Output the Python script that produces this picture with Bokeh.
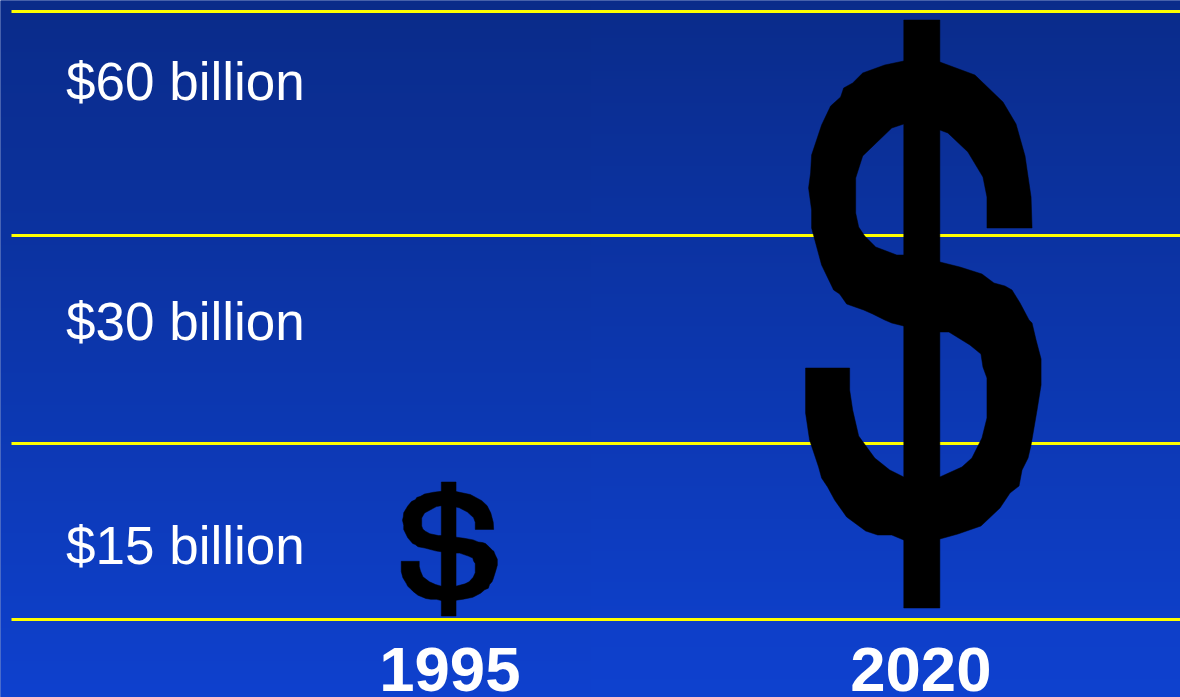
import numpy as np
from bokeh.core.properties import value
from bokeh.embed import file_html
from bokeh.models import Range1d
from bokeh.plotting import figure
from bokeh.resources import INLINE

# Chart content
years = [1995, 2020]
year_labels = ["1995", "2020"]
band_labels = ["$60 billion", "$30 billion", "$15 billion"]
grid_levels = [60.8, 38.4, 17.6, 0.0]        # rule heights (10 px per unit)
label_levels = [53.8, 29.8, 7.4]             # text positions in the same units
year_label_level = -5.0
mark_centres = [1994.94, 2020.10]
mark_bottoms = [0.35, 1.15]                  # $ pictogram extent
mark_tops = [13.75, 59.95]
mark_widths = [5.1, 12.5]                    # in years on the x scale

# Outline of the "$" pictogram, traced (arbitrary glyph units)
s_x = [987, 1032, 1031, 1025, 1016, 1003, 975, 940, 904, 885, 863, 853, 844, 841, 831, 822, 812, 811, 809,
       812, 812, 822, 834, 840, 847, 864, 873, 885, 892, 904, 940, 949, 970, 981, 983, 987, 987, 982, 972,
       962, 940, 904, 890, 875, 859, 853, 850, 850, 806, 806, 810, 819, 822, 828, 835, 847, 866, 878, 892,
       904, 940, 958, 981, 1000, 1010, 1019, 1022, 1028, 1031, 1037, 1041, 1041, 1036, 1032, 1029, 1020,
       1012, 1005, 994, 982, 960, 940, 904, 897, 876, 865, 859, 856, 856, 863, 892, 904, 940, 948, 968,
       983, 987]
s_y = [228, 228, 197, 156, 124, 102, 75, 62, 61, 65, 73, 83, 88, 97, 106, 125, 155, 173, 188,
       210, 228, 265, 290, 294, 304, 310, 314, 320, 323, 326, 332, 332, 345, 354, 367, 378, 418, 438, 458,
       467, 477, 477, 470, 458, 436, 410, 390, 368, 368, 413, 440, 467, 478, 487, 500, 517, 531, 535, 535,
       540, 539, 534, 526, 508, 493, 486, 470, 458, 445, 410, 385, 359, 340, 323, 320, 303,
       290, 286, 283, 274, 267, 262, 255, 255, 247, 236, 227, 213, 178, 156, 128, 124, 130, 133, 152,
       177, 197]
bar_x = [904, 940, 940, 904]
bar_y = [20, 20, 608, 608]

W, H = 1180, 697
X_MIN, X_MAX = 1971.12, 2033.75
Y_BOTTOM, Y_TOP = -7.8, 61.9

p = figure(width=W, height=H, x_range=Range1d(X_MIN, X_MAX), y_range=Range1d(Y_BOTTOM, Y_TOP),
           x_axis_type=None, y_axis_type=None,
           output_backend="svg", toolbar_location=None, min_border=0, outline_line_color=None)
p.grid.visible = False
p.background_fill_color = "#0B2F98"
p.border_fill_color = "#0B2F98"
p.stylesheets = [":host{position:fixed !important;left:0 !important;top:0 !important;}"]

# Background gradient (extends past the frame so no edge shows)
n = 700
rows = np.linspace(0, 1, n)
cols = np.linspace(0, 1, 2)
vv, hh = np.meshgrid(rows, cols, indexing="ij")
t = np.clip(vv + 0.02 * (0.5 - hh), 0, 1)
img = np.zeros((n, 2), dtype=np.uint32)
view = img.view(dtype=np.uint8).reshape((n, 2, 4))
view[..., 0] = np.round(14 - 4 * t)
view[..., 1] = np.round(65 - 22 * t)
view[..., 2] = np.round(207 - 70 * t)
view[..., 3] = 255
x_px = (X_MAX - X_MIN) / W
y_px = (Y_TOP - Y_BOTTOM) / H
p.image_rgba(image=[img], x=X_MIN - 4 * x_px, y=Y_BOTTOM - 4 * y_px,
             dw=X_MAX - X_MIN + 8 * x_px, dh=Y_TOP - Y_BOTTOM + 8 * y_px)

# Yellow rules
p.segment(x0=[X_MIN + 11 * x_px] * len(grid_levels), x1=[X_MAX] * len(grid_levels),
          y0=grid_levels, y1=grid_levels, line_color="#FFFF00", line_width=3)

# $ pictograms
sx = np.array(s_x, float)
sy = np.array(s_y, float)
bx = np.array(bar_x, float)
by = np.array(bar_y, float)
x0, x1 = sx.min(), sx.max()
y0, y1 = by.min(), by.max()
cx = (x0 + x1) / 2
xs, ys = [], []
for mx, w, b, t_ in zip(mark_centres, mark_widths, mark_bottoms, mark_tops):
    for ox, oy in ((sx, sy), (bx, by)):
        xs.append(list(mx + (ox - cx) / (x1 - x0) * w))
        ys.append(list(b + (y1 - oy) / (y1 - y0) * (t_ - b)))
p.patches(xs, ys, fill_color="#000000", line_color="#000000", line_width=0.5)

# Band labels
p.text(x=[X_MIN + 65.5 * x_px] * len(band_labels), y=label_levels, text=band_labels, text_color="#FFFFFF",
       text_font=value("Liberation Sans"), text_font_size="53px",
       text_align="left", text_baseline="alphabetic")

# Year labels
p.text(x=[y - 0.03 for y in years], y=[year_label_level] * len(years), text=year_labels, text_color="#FFFFFF",
       text_font=value("Liberation Sans"), text_font_style="bold", text_font_size="63.5px",
       text_align="center", text_baseline="alphabetic")

open("out.html", "w").write(file_html(p, INLINE))
